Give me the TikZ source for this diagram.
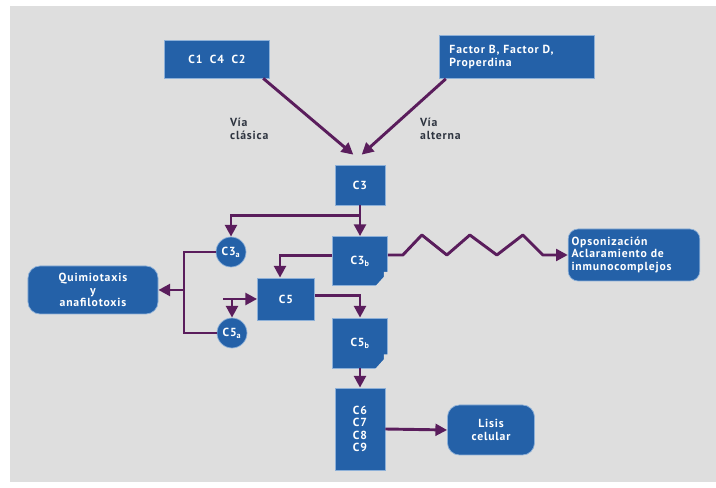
\documentclass[tikz,border=0pt]{standalone}
\usepackage{fontspec}
\setsansfont{PT Sans}[LetterSpace=7]
\usepackage{tikz}
\usetikzlibrary{arrows.meta,positioning,calc}
\usepackage{xcolor}
\definecolor{cpBlue}{HTML}{2461A8}
\definecolor{cpEdge}{HTML}{8DB0D8}
\definecolor{cpPlum}{HTML}{5A1D5C}
\definecolor{cpBack}{HTML}{DEDEDE}
\definecolor{cpText}{HTML}{2E3440}
\tikzset{
  box/.style={fill=cpBlue, draw=cpEdge, line width=0.6pt, text=white, font=\sffamily\fontsize{10}{10.5}\selectfont\bfseries, align=center, inner sep=2pt},
  rbox/.style={box, rounded corners=0.3cm},
  circ/.style={box, circle, minimum size=0.9cm, inner sep=0pt},
  arr/.style={-{Triangle[length=10pt,width=10pt]}, line width=2.5pt, draw=cpPlum},
  lnk/.style={line width=2.5pt, draw=cpPlum},
  lbl/.style={font=\sffamily\fontsize{10}{10.5}\selectfont\bfseries, text=cpText, align=left, anchor=west},
}

\begin{document}
\begin{tikzpicture}[x=0.03cm, y=-0.03cm]
  \useasboundingbox (0,0) rectangle (716,488);
  \fill[cpBack] (10,6) rectangle (716,482);

  % entradas
  \node[box, minimum width=3.15cm, minimum height=1.14cm] (c142) at (217,59) {C1\ \ C4\ \ C2};
  \node[box, text width=4.05cm, inner xsep=0.3cm, minimum height=1.29cm, align=left] (fbd) at (517,57) {Factor B, Factor D,\\Properdina};
  \node[lbl] (clas) at (226,129) {Vía\\clásica};
  \node[lbl] (alt) at (416,129) {Vía\\alterna};

  % eje central
  \node[box, minimum width=1.5cm, minimum height=1.2cm] (c3) at (360,185) {C3};
  \node[box, minimum width=1.65cm, minimum height=1.47cm] (c3b) at (360,261) {C3\textsubscript{b}};
  \node[box, minimum width=1.71cm, minimum height=1.26cm] (c5) at (286,299) {C5};
  \node[box, minimum width=1.65cm, minimum height=1.5cm] (c5b) at (360,343) {C5\textsubscript{b}};
  \node[box, minimum width=1.5cm, minimum height=2.46cm] (c69) at (360,429) {C6\\C7\\C8\\C9};

  % muescas
  \fill[cpBack] ($(c3b.south east)+(1,-14)$) -- ++(-5,0) -- ++(0,5) -- ++(-9,10) -- ++(14,0) -- cycle;
  \fill[cpBack] ($(c5b.south east)+(1,-14)$) -- ++(-5,0) -- ++(0,5) -- ++(-9,10) -- ++(14,0) -- cycle;

  % anafilotoxinas
  \node[circ] (c3a) at (231,252) {C3\textsubscript{a}};
  \node[circ] (c5a) at (232,333) {C5\textsubscript{a}};

  % efectos
  \node[rbox, text width=3.75cm, inner xsep=0.1cm, minimum height=1.56cm, align=left] (opso) at (634,255) {Opsonización\\Aclaramiento de\\inmunocomplejos};
  \node[rbox, minimum width=3.9cm, minimum height=1.44cm, rounded corners=0.36cm] (quimio) at (93,290) {Quimiotaxis\\y\\anafilotoxis};
  \node[rbox, minimum width=2.61cm, minimum height=1.5cm, rounded corners=0.36cm] (lisis) at (491,430) {Lisis\\celular};

  % conexiones
  \draw[arr] ([xshift=-0.2cm]c142.south east) -- ([xshift=-0.2cm, yshift=0.3cm]c3.north);
  \draw[arr] ([xshift=0.2cm]fbd.south west) -- ([xshift=0.05cm, yshift=0.3cm]c3.north);
  \draw[arr] (c3.south) -- (c3b.north);
  \draw[arr] ($(c3.south)!0.32!(c3b.north)$) -| (c3a.north);
  \draw[arr] ([yshift=5pt]c3b.west) -| ([xshift=-0.18cm]c5.north);
  \draw[arr] ([yshift=3pt]c5.east) -| (c5b.north);
  \draw[arr] (c5b.south) -- (c69.north);
  \draw[arr] (c69.east) -- (lisis.west);
  \draw[arr, line join=round] (c3b.east |- opso.west) -- ++(15,0) -- ++(19,-20) -- ++(25,20)
    -- ++(23,-20) -- ++(27,20) -- ++(26,-20) -- ++(20,20) -- (opso.west);

  \coordinate (jn) at (223,299);
  \draw[arr] (jn) -- (c5.west);
  \draw[arr] (jn -| c5a.north) -- (c5a.north);

  \coordinate (brk) at (184,290);
  \draw[lnk] (c3a.west) -| (brk) |- (c5a.west);
  \draw[arr] (brk) -- (quimio.east);
\end{tikzpicture}
\end{document}
